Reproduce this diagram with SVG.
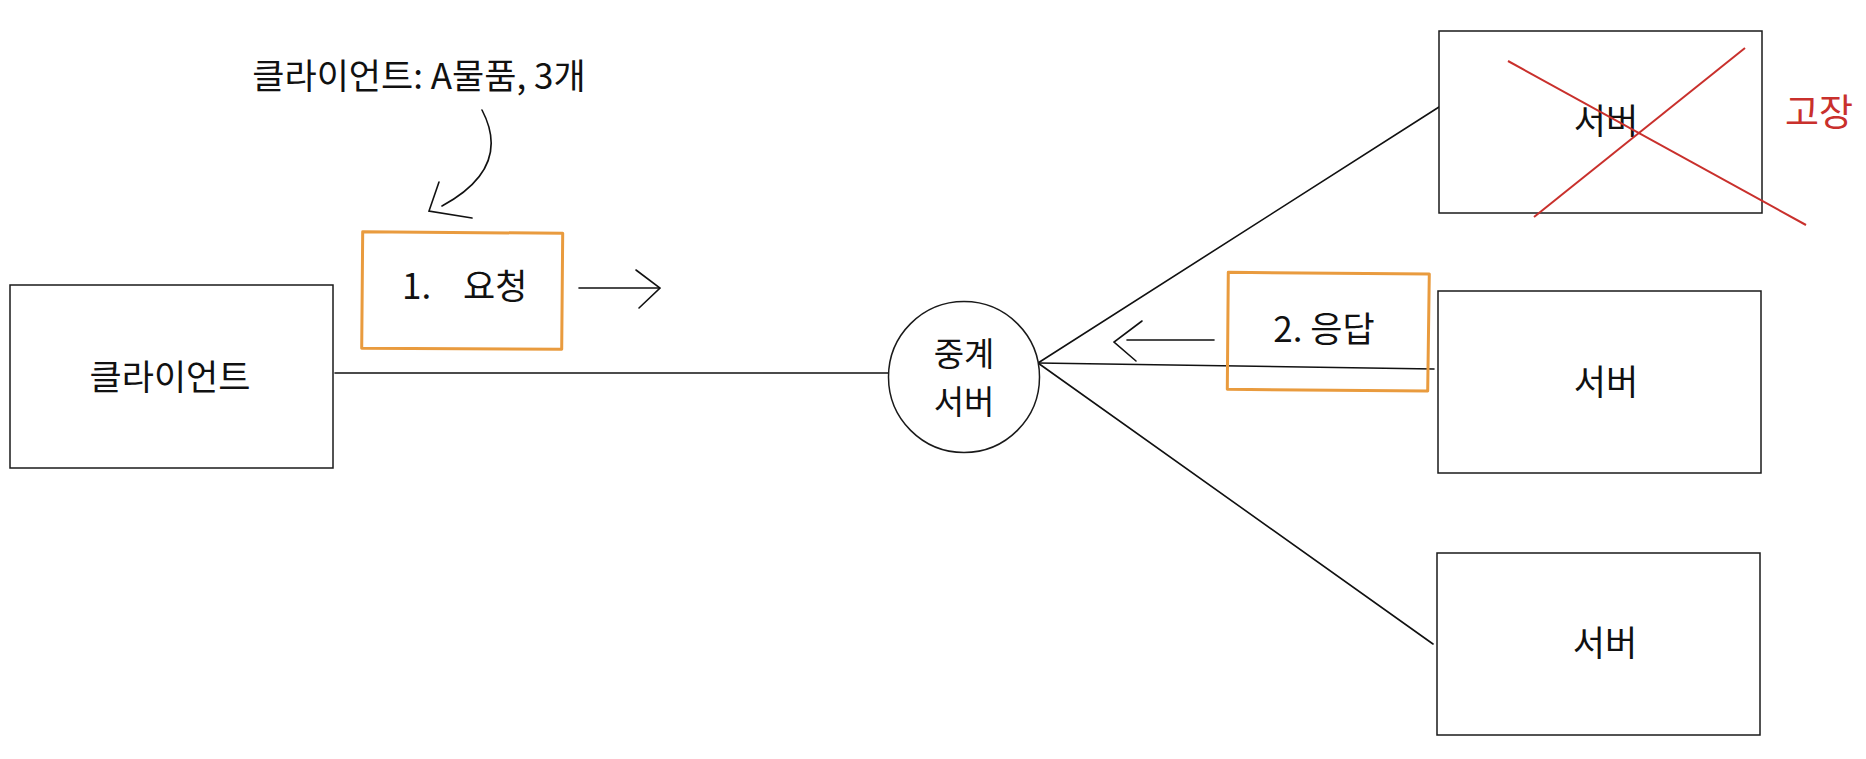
<svg xmlns="http://www.w3.org/2000/svg" width="1866" height="759" viewBox="0 0 1866 759">
  <style>
    .box { fill: #ffffff; stroke: #1a1a1a; stroke-width: 1.5; }
    .note { fill: none; stroke: #e99b3e; stroke-width: 3; stroke-linejoin: round; }
    .ln { fill: none; stroke: #111111; stroke-width: 1.6; stroke-linecap: round; stroke-linejoin: miter; }
    .red { fill: none; stroke: #c9302c; stroke-width: 2; }
    .t { font-family: "Noto Sans CJK KR", "Noto Sans", "Liberation Sans", sans-serif; font-size: 35px; fill: #111111; }
    .tc { font-size: 33px; }
    .tr { fill: #c9302c; font-size: 37px; }
  </style>
  <rect width="1866" height="759" fill="#ffffff"/>

  <g id="connectors">
    <line class="ln" x1="335" y1="373" x2="888" y2="373"/>
    <line class="ln" x1="1038" y1="363" x2="1439" y2="107"/>
    <line class="ln" x1="1038" y1="363" x2="1434" y2="369"/>
    <line class="ln" x1="1038" y1="363" x2="1433" y2="644"/>
    <path class="ln" d="M482,110 C502,148 490,180 442,206"/>
    <polyline class="ln" points="439,182 429,211 472,218"/>
    <line class="ln" x1="579" y1="288" x2="659" y2="288"/>
    <polyline class="ln" points="636,270 660,288 639,308"/>
    <line class="ln" x1="1127" y1="340" x2="1214" y2="340"/>
    <polyline class="ln" points="1142,321 1114,342 1136,361"/>
  </g>

  <g id="client">
    <rect class="box" x="10" y="285" width="323" height="183"/>
    <text class="t" x="170" y="390" text-anchor="middle">클라이언트</text>
  </g>

  <g id="relay">
    <circle class="box" cx="964" cy="377" r="75.5"/>
    <text class="t tc" x="964" y="366" text-anchor="middle">중계</text>
    <text class="t tc" x="964" y="414" text-anchor="middle">서버</text>
  </g>

  <g id="server1">
    <rect class="box" x="1439" y="31" width="323" height="182"/>
    <text class="t" x="1606" y="134" text-anchor="middle">서버</text>
    <line class="red" x1="1508" y1="61" x2="1806" y2="225"/>
    <line class="red" x1="1745" y1="48" x2="1534" y2="217"/>
  </g>

  <g id="broken-label">
    <text class="t tr" x="1819" y="126" text-anchor="middle">고장</text>
  </g>

  <g id="server2">
    <rect class="box" x="1438" y="291" width="323" height="182"/>
    <text class="t" x="1606" y="395" text-anchor="middle">서버</text>
  </g>

  <g id="server3">
    <rect class="box" x="1437" y="553" width="323" height="182"/>
    <text class="t" x="1605" y="656" text-anchor="middle">서버</text>
  </g>

  <g id="client-request-note">
    <text class="t" x="419" y="89" text-anchor="middle">클라이언트: A물품, 3개</text>
  </g>

  <g id="request-label">
    <polygon class="note" points="362.7,231.7 562.7,233.3 561.7,349.3 361.7,348.3"/>
    <text class="t" y="299"><tspan x="402">1.</tspan><tspan x="463">요청</tspan></text>
  </g>

  <g id="response-label">
    <polygon class="note" points="1228.3,272.3 1429.3,274 1427.7,391 1227.3,389.3"/>
    <text class="t" x="1324" y="342" text-anchor="middle">2. 응답</text>
  </g>
</svg>
